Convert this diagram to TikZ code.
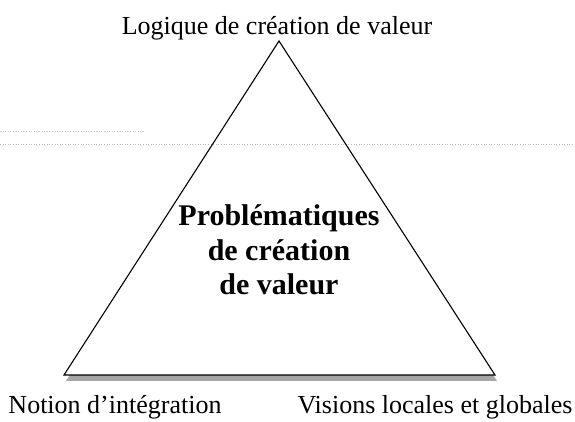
\documentclass[tikz,border=0pt]{standalone}
\usepackage{fontspec}
\setmainfont{Liberation Serif}
\usepackage{tikz}
\usetikzlibrary{calc}

\begin{document}
\begin{tikzpicture}[x=1pt,y=1pt,
  labels/.style={font=\fontsize{26}{30}\selectfont, inner sep=0pt, anchor=base},
  titre/.style={font=\fontsize{30}{34.5}\selectfont\bfseries, align=center, inner sep=0pt, anchor=base},
  bords/.style={line width=1.1pt, line join=miter}]

 \useasboundingbox (0,0) rectangle (575,422);

 \coordinate (sommet_1) at (279,381);
 \coordinate (sommet_2) at (64,47);
 \coordinate (sommet_3) at (495,47);

 % ombre
 \fill [gray!70] ($(sommet_1)+(2,-6)$) -- ($(sommet_2)+(2,-6)$) -- ($(sommet_3)+(2,-6)$) -- cycle;
 \fill [white] (sommet_1) -- (sommet_2) -- (sommet_3) -- cycle;

 % traces du scan
 \draw [gray!55, dotted, line width=0.6pt] (0,278) -- (575,278);
 \draw [gray!45, dotted, line width=0.6pt] (0,291) -- (145,291);

 \draw [bords] (sommet_1) -- (sommet_2) -- (sommet_3) -- cycle;

 \node [labels] (logique) at (277,387) {Logique de création de valeur};
 \node [labels] (notion) at (115,8) {Notion d’intégration};
 \node [labels] (visions) at (435,8) {Visions locales et globales};

 % la derniere ligne porte l'ancre base
 \node [titre] (problemes) at (279,127)
     {Problématiques\\de création\\de valeur};

\end{tikzpicture}
\end{document}
